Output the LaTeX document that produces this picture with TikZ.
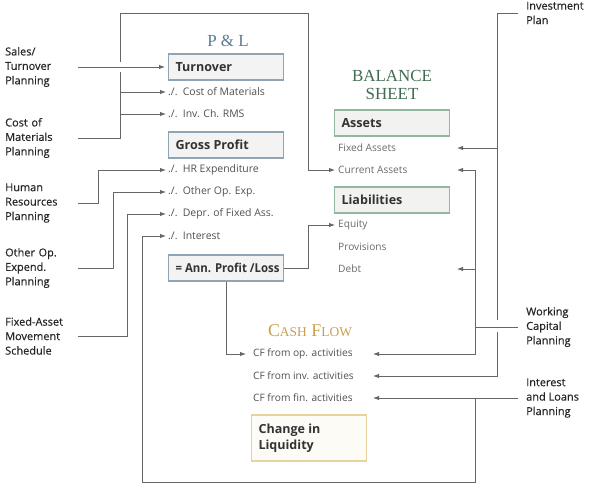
\documentclass[tikz,border=0pt]{standalone}
\usepackage{fontspec}
\usepackage{graphicx}
\setmainfont{Open Sans}
\newfontfamily\semib[FakeBold=0.5]{Open Sans}
\newfontfamily\titlefont{Liberation Serif}
\usetikzlibrary{arrows.meta}
\definecolor{ln}{HTML}{666666}
\definecolor{lbltxt}{HTML}{262626}
\definecolor{itemtxt}{HTML}{505050}
\definecolor{bsitemtxt}{HTML}{6A6A6A}
\definecolor{boxtxt}{HTML}{333333}
\definecolor{plborder}{HTML}{8FA5B4}
\definecolor{plfill}{HTML}{F3F3F3}
\definecolor{bsborder}{HTML}{92B79D}
\definecolor{bsfill}{HTML}{F2F2F0}
\definecolor{clborder}{HTML}{E8D39C}
\definecolor{clfill}{HTML}{FDFBF6}
\definecolor{plcol}{HTML}{5A7A8E}
\definecolor{bscol}{HTML}{3F6B4F}
\definecolor{cfcol}{HTML}{C8A04E}
\tikzset{
  lbl/.style={anchor=west, align=left, font=\semib\fontsize{11}{14.5}\selectfont, text=lbltxt, inner sep=2bp, text width=71bp},
  rlbl/.style={anchor=west, align=left, font=\semib\fontsize{11}{14.5}\selectfont, text=lbltxt, inner xsep=8bp, inner ysep=2bp},
  item/.style={anchor=west, inner sep=2bp, font=\fontsize{10.2}{12}\selectfont, text=itemtxt},
  plitem/.style={item, font=\fontsize{10.5}{12}\selectfont},
  bitem/.style={item, text=bsitemtxt},
  boxbase/.style={anchor=west, line width=1.1bp, minimum height=26bp, minimum width=115bp, inner xsep=7bp, align=left, font=\bfseries\fontsize{12.6}{16.5}\selectfont, text=boxtxt},
  plbox/.style={boxbase, draw=plborder, fill=plfill},
  bsbox/.style={boxbase, draw=bsborder, fill=bsfill},
  clbox/.style={boxbase, draw=clborder, fill=clfill, minimum height=46bp},
  ttl/.style={font=\titlefont\fontsize{17}{17.5}\selectfont, align=center, inner sep=0pt},
  conn/.style={draw=ln, line width=0.95bp},
  arr/.style={conn, -{Latex[length=6bp,width=4.5bp]}},
}
\newcommand{\bx}[1]{\makebox[101bp][l]{#1}}
\begin{document}
\begin{tikzpicture}[x=1bp,y=-1bp]
\useasboundingbox (0,0) rectangle (594,491);
% titles
\node[ttl, text=plcol] (plt) at (228,41) {P \& L};
\node[ttl, text=bscol] (bst) at (392,85) {BALANCE\\SHEET};
\node[ttl, text=cfcol, font=\titlefont\fontsize{18}{18}\selectfont] (cft) at (310,331) {C{\fontsize{13.5}{14}\selectfont ASH} F{\fontsize{13.5}{14}\selectfont LOW}};
% P&L
\node[plbox] (turn) at (168,67) {\bx{Turnover}};
\node[plitem] (com) at (166,92) {./.\enspace Cost of Materials};
\node[plitem] (inv) at (166,114) {./.\enspace Inv. Ch. RMS};
\node[plbox] (gp) at (168,145) {\bx{Gross Profit}};
\node[plitem] (hr) at (166,170) {./.\enspace HR Expenditure};
\node[plitem] (oop) at (166,192) {./.\enspace Other Op. Exp.};
\node[plitem] (dep) at (166,214) {./.\enspace Depr. of Fixed Ass.};
\node[plitem] (int) at (166,236) {./.\enspace Interest};
\node[plbox] (ann) at (168,268) {\bx{\scalebox{0.93}[1]{\fontsize{12.3}{16}\selectfont = Ann. Profit /Loss}}};
% Balance sheet
\node[bsbox] (assets) at (334,123) {\bx{Assets}};
\node[bitem] (fa) at (336,148) {Fixed Assets};
\node[bitem] (ca) at (336,170) {Current Assets};
\node[bsbox] (liab) at (334,200) {\bx{Liabilities}};
\node[bitem] (eq) at (336,225) {Equity};
\node[bitem] (prov) at (336,247) {Provisions};
\node[bitem] (debt) at (336,269) {Debt};
% Cash flow
\node[item] (cfo) at (251,354) {CF from op. activities};
\node[item] (cfi) at (251,376) {CF from inv. activities};
\node[item] (cff) at (251,398) {CF from fin. activities};
\node[clbox] (cl) at (251,438) {\parbox{101bp}{Change in\\Liquidity}};
% left labels
\node[lbl] (sales) at (3,67) {Sales/\\Turnover\\Planning};
\node[lbl] (cmp) at (3,138) {Cost of\\Materials\\Planning};
\node[lbl] (hrp) at (3,203) {Human\\Resources\\Planning};
\node[lbl] (oep) at (3,268) {Other Op.\\Expend.\\Planning};
\node[lbl] (fam) at (3,336) {Fixed-Asset\\Movement\\Schedule};
% right labels
\node[rlbl] (invp) at (518,13) {Investment\\Plan};
\node[rlbl] (wcp) at (518,327) {Working\\Capital\\Planning};
\node[rlbl] (ilp) at (518,398) {Interest\\and Loans\\Planning};
% helper coordinates
\coordinate (cmA) at (120,13);
\coordinate (cmB) at (308,13);
\coordinate (bsR) at (457,0);
\coordinate (cfR) at (373,0);
\coordinate (wx) at (475,0);
\coordinate (ix) at (497,0);
% connectors
\draw[arr, shorten >=3bp] (sales.east) -- (turn.west);
\draw[conn] (cmp.east) -| (120,72);
\draw[arr, shorten >=1bp] (120,62) -- (cmA) -- (cmB) |- (ca.west);
\draw[arr] (com.west -| cmA) -- (com.west);
\draw[arr] (inv.west -| cmA) -- (inv.west);
\draw[arr] (hrp.east) -- (98,203) |- (hr.west);
\draw[arr] (oep.east) -- (113,268) |- (oop.west);
\draw[arr] (fam.east) -- (127,336) |- (dep.west);
\draw[arr] (ilp.west) -- (cff.west -| cfR);
\draw[arr] (cff.west -| wx) -- (475,482) -- (142,482) |- (int.west);
\draw[conn] (invp.west) -- (ix |- invp.west) -- (497,320);
\draw[arr] (fa.west -| ix) -- (fa.west -| bsR);
\draw[arr] (497,332) |- (cfi.west -| cfR);
\draw[arr] (wcp.west) -- (wcp.west -| wx) |- (cfo.west -| cfR);
\draw[arr] (wcp.west -| wx) |- (ca.west -| bsR);
\draw[arr] (debt.west -| wx) -- (debt.west -| bsR);
\draw[arr, shorten >=1bp] (ann.east) -- (308,268) |- (eq.west);
\draw[arr, shorten >=5bp] (ann.south) |- (cfo.west);
\end{tikzpicture}
\end{document}
